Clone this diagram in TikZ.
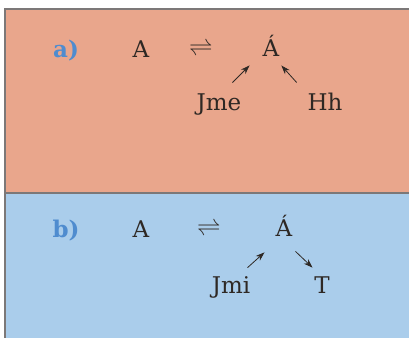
\documentclass[tikz,border=0pt]{standalone}
\usepackage{fontspec}
\setmainfont{DejaVu Serif}
\definecolor{salmon}{HTML}{E9A68C}
\definecolor{sky}{HTML}{AACDEB}
\definecolor{rim}{HTML}{7C7878}
\definecolor{tag}{HTML}{4F8CCF}
\definecolor{ink}{HTML}{2E2824}
\usetikzlibrary{arrows.meta}
\tikzset{
  term/.style={font=\fontsize{11.5}{13}\selectfont, color=ink, inner sep=1pt, anchor=base},
  tagl/.style={font=\fontsize{11.5}{13}\selectfont\bfseries, color=tag, inner sep=1pt, anchor=base},
  link/.style={-{Stealth[length=1.6mm,width=1.1mm]}, thin, color=ink, shorten <=1pt, shorten >=1pt},
}
\begin{document}
\begin{tikzpicture}[x=0.5pt,y=-0.5pt]
\useasboundingbox (0,0) rectangle (409,338);
\fill[white] (0,0) rectangle (409,338);
\fill[salmon] (5,9) rectangle (409,193);
\fill[sky] (5,193) rectangle (409,338);
\draw[rim,line width=1.2pt] (5,338)--(5,9)--(409,9);
\draw[rim,line width=1.2pt] (5,193)--(409,193);
% a)
\node[tagl] (ta) at (66,57) {a)};
\node[term] (a1) at (141,57) {A};
\node[term] (ea) at (201,55) {$\rightleftharpoons$};
\node[term] (a2) at (271,56) {Á};
\node[term] (jme) at (219,110) {Jme};
\node[term] (hh) at (325,110) {Hh};
\coordinate (ja) at (231,84);
\coordinate (jb) at (251,64);
\coordinate (ha) at (298,84);
\coordinate (hb) at (280,64);
\draw[link] (ja)--(jb);
\draw[link] (ha)--(hb);
% b)
\node[tagl] (tb) at (66,237) {b)};
\node[term] (b1) at (141,237) {A};
\node[term] (eb) at (209,235) {$\rightleftharpoons$};
\node[term] (b2) at (284,236) {Á};
\node[term] (jmi) at (231,293) {Jmi};
\node[term] (tt) at (322,293) {T};
\coordinate (ka) at (246,269);
\coordinate (kb) at (266,251);
\coordinate (la) at (294,250);
\coordinate (lb) at (314,269);
\draw[link] (ka)--(kb);
\draw[link] (la)--(lb);
\end{tikzpicture}
\end{document}
